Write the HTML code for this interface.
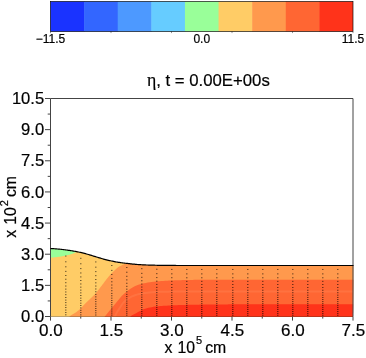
<!DOCTYPE html><html><head><meta charset="utf-8"><style>html,body{margin:0;padding:0;background:#fff;}svg{display:block;}text{filter:grayscale(1);font-family:"Liberation Sans",sans-serif;fill:#000;stroke:#000;stroke-width:0.2px;}</style></head><body>
<svg width="366" height="358" viewBox="0 0 366 358">
<rect width="366" height="358" fill="#fff"/>
<rect x="50.50" y="1.5" width="34.11" height="30.0" fill="#1A33FF"/>
<rect x="84.11" y="1.5" width="34.11" height="30.0" fill="#3366FF"/>
<rect x="117.72" y="1.5" width="34.11" height="30.0" fill="#4D99FF"/>
<rect x="151.33" y="1.5" width="34.11" height="30.0" fill="#66CCFF"/>
<rect x="184.94" y="1.5" width="34.11" height="30.0" fill="#99FF99"/>
<rect x="218.56" y="1.5" width="34.11" height="30.0" fill="#FFCC66"/>
<rect x="252.17" y="1.5" width="34.11" height="30.0" fill="#FF994D"/>
<rect x="285.78" y="1.5" width="34.11" height="30.0" fill="#FF6633"/>
<rect x="319.39" y="1.5" width="33.61" height="30.0" fill="#FF331A"/>
<rect x="50.5" y="1.5" width="302.5" height="30.0" fill="none" stroke="#000" stroke-width="0.65"/>
<path d="M50.50,31.5v1.6 M111.00,31.5v1.6 M171.50,31.5v1.6 M232.00,31.5v1.6 M292.50,31.5v1.6 M353.00,31.5v1.6" stroke="#000" stroke-width="0.6" stroke-opacity="0.7" fill="none"/>
<text x="50.5" y="42.8" font-size="12" text-anchor="middle">−11.5</text>
<text x="201.75" y="42.8" font-size="12" text-anchor="middle">0.0</text>
<text x="353.0" y="42.8" font-size="12" text-anchor="middle">11.5</text>
<clipPath id="wc"><polygon points="50.50,248.50 51.50,248.55 52.50,248.60 53.50,248.67 54.50,248.74 55.50,248.81 56.50,248.89 57.50,248.98 58.50,249.06 59.50,249.16 60.50,249.26 61.50,249.38 62.50,249.50 63.50,249.63 64.50,249.77 65.50,249.90 66.50,250.03 67.50,250.17 68.50,250.31 69.50,250.46 70.50,250.61 71.50,250.76 72.50,250.92 73.50,251.08 74.50,251.25 75.50,251.43 76.50,251.61 77.50,251.81 78.50,252.01 79.50,252.22 80.50,252.43 81.50,252.66 82.50,252.90 83.50,253.16 84.50,253.43 85.50,253.70 86.50,253.98 87.50,254.26 88.50,254.54 89.50,254.83 90.50,255.14 91.50,255.44 92.50,255.75 93.50,256.07 94.50,256.38 95.50,256.68 96.50,256.98 97.50,257.28 98.50,257.57 99.50,257.87 100.50,258.17 101.50,258.47 102.50,258.76 103.50,259.05 104.50,259.33 105.50,259.60 106.50,259.86 107.50,260.11 108.50,260.34 109.50,260.56 110.50,260.78 111.50,261.00 112.50,261.21 113.50,261.41 114.50,261.60 115.50,261.79 116.50,261.97 117.50,262.14 118.50,262.30 119.50,262.46 120.50,262.60 121.50,262.74 122.50,262.88 123.50,263.00 124.50,263.12 125.50,263.24 126.50,263.36 127.50,263.47 128.50,263.59 129.50,263.70 130.50,263.81 131.50,263.92 132.50,264.03 133.50,264.13 134.50,264.22 135.50,264.32 136.50,264.40 137.50,264.48 138.50,264.55 139.50,264.62 140.50,264.68 141.50,264.74 142.50,264.79 143.50,264.84 144.50,264.89 145.50,264.94 146.50,264.98 147.50,265.02 148.50,265.05 149.50,265.09 150.50,265.11 151.50,265.14 152.50,265.17 153.50,265.19 154.50,265.22 155.50,265.24 156.50,265.27 157.50,265.29 158.50,265.31 159.50,265.33 160.50,265.34 161.50,265.36 162.50,265.37 163.50,265.39 164.50,265.40 165.50,265.40 166.50,265.41 167.50,265.42 168.50,265.43 169.50,265.44 170.50,265.44 171.50,265.45 172.50,265.46 173.50,265.46 174.50,265.47 175.50,265.47 176.50,265.48 177.50,265.48 178.50,265.49 179.50,265.49 180.50,265.49 181.50,265.50 182.50,265.50 183.50,265.50 184.50,265.50 185.50,265.50 186.50,265.50 187.50,265.50 188.50,265.50 189.50,265.50 190.50,265.50 191.50,265.50 192.50,265.50 193.50,265.50 194.50,265.50 195.50,265.50 196.50,265.50 197.50,265.50 198.50,265.50 199.50,265.50 200.50,265.50 201.50,265.50 202.50,265.50 203.50,265.50 204.50,265.50 205.50,265.50 206.50,265.50 207.50,265.50 208.50,265.50 209.50,265.50 210.50,265.50 211.50,265.50 212.50,265.50 213.50,265.50 214.50,265.50 215.50,265.50 216.50,265.50 217.50,265.50 218.50,265.50 219.50,265.50 220.50,265.50 221.50,265.50 222.50,265.50 223.50,265.50 224.50,265.50 225.50,265.50 226.50,265.50 227.50,265.50 228.50,265.50 229.50,265.50 230.50,265.50 231.50,265.50 232.50,265.50 233.50,265.50 234.50,265.50 235.50,265.50 236.50,265.50 237.50,265.50 238.50,265.50 239.50,265.50 240.50,265.50 241.50,265.50 242.50,265.50 243.50,265.50 244.50,265.50 245.50,265.50 246.50,265.50 247.50,265.50 248.50,265.50 249.50,265.50 250.50,265.50 251.50,265.50 252.50,265.50 253.50,265.50 254.50,265.50 255.50,265.50 256.50,265.50 257.50,265.50 258.50,265.50 259.50,265.50 260.50,265.50 261.50,265.50 262.50,265.50 263.50,265.50 264.50,265.50 265.50,265.50 266.50,265.50 267.50,265.50 268.50,265.50 269.50,265.50 270.50,265.50 271.50,265.50 272.50,265.50 273.50,265.50 274.50,265.50 275.50,265.50 276.50,265.50 277.50,265.50 278.50,265.50 279.50,265.50 280.50,265.50 281.50,265.50 282.50,265.50 283.50,265.50 284.50,265.50 285.50,265.50 286.50,265.50 287.50,265.50 288.50,265.50 289.50,265.50 290.50,265.50 291.50,265.50 292.50,265.50 293.50,265.50 294.50,265.50 295.50,265.50 296.50,265.50 297.50,265.50 298.50,265.50 299.50,265.50 300.50,265.50 301.50,265.50 302.50,265.50 303.50,265.50 304.50,265.50 305.50,265.50 306.50,265.50 307.50,265.50 308.50,265.50 309.50,265.50 310.50,265.50 311.50,265.50 312.50,265.50 313.50,265.50 314.50,265.50 315.50,265.50 316.50,265.50 317.50,265.50 318.50,265.50 319.50,265.50 320.50,265.50 321.50,265.50 322.50,265.50 323.50,265.50 324.50,265.50 325.50,265.50 326.50,265.50 327.50,265.50 328.50,265.50 329.50,265.50 330.50,265.50 331.50,265.50 332.50,265.50 333.50,265.50 334.50,265.50 335.50,265.50 336.50,265.50 337.50,265.50 338.50,265.50 339.50,265.50 340.50,265.50 341.50,265.50 342.50,265.50 343.50,265.50 344.50,265.50 345.50,265.50 346.50,265.50 347.50,265.50 348.50,265.50 349.50,265.50 350.50,265.50 351.50,265.50 352.50,265.50 353.50,265.50 353.0,316.7 50.5,316.7"/></clipPath>
<g clip-path="url(#wc)">
<rect x="50.5" y="240" width="302.5" height="80" fill="#FFCC66"/>
<polygon points="49.00,240.00 49.00,257.80 49.55,257.77 50.09,257.73 50.64,257.69 51.18,257.64 51.73,257.60 52.27,257.55 52.82,257.50 53.36,257.44 53.91,257.39 54.45,257.33 55.00,257.27 55.54,257.21 56.08,257.14 56.63,257.07 57.17,257.01 57.71,256.94 58.25,256.87 58.80,256.79 59.34,256.72 59.88,256.63 60.42,256.55 60.96,256.47 61.50,256.38 62.05,256.28 62.59,256.19 63.12,256.09 63.66,255.99 64.20,255.89 64.74,255.78 65.27,255.67 65.80,255.56 66.34,255.44 66.87,255.32 67.40,255.19 67.94,255.06 68.47,254.92 69.00,254.78 69.53,254.64 70.06,254.48 70.59,254.33 71.11,254.17 71.63,254.00 72.15,253.83 72.66,253.65 73.18,253.47 73.68,253.28 74.19,253.07 74.69,252.84 75.19,252.61 75.68,252.37 76.17,252.12 76.66,251.87 77.15,251.62 77.63,251.37 78.11,251.11 78.59,250.84 79.06,250.57 79.53,250.29 80.00,250.00 80.00,240.00" fill="#99FF99"/>
<polygon points="68.50,318.00 69.35,316.80 70.34,315.81 71.50,314.99 72.76,314.25 74.05,313.54 75.30,312.78 76.47,311.94 77.61,311.05 78.74,310.13 79.83,309.19 80.89,308.21 81.90,307.19 82.88,306.12 83.84,305.04 84.80,303.95 85.79,302.91 86.83,301.90 87.88,300.91 88.95,299.93 90.01,298.95 91.06,297.95 92.10,296.95 93.14,295.95 94.17,294.93 95.17,293.89 96.13,292.82 97.05,291.71 97.94,290.57 98.82,289.42 99.69,288.26 100.57,287.12 101.45,285.97 102.32,284.81 103.19,283.66 104.06,282.51 104.94,281.36 105.80,280.20 106.67,279.04 107.57,277.91 108.50,276.81 109.44,275.71 110.40,274.62 111.38,273.55 112.38,272.51 113.40,271.50 114.45,270.49 115.51,269.49 116.60,268.52 117.73,267.61 118.90,266.79 120.12,266.07 121.40,265.42 122.73,264.83 124.09,264.27 125.44,263.75 126.80,263.27 128.18,262.85 129.58,262.50 131.00,262.20 131.00,240.00 360.00,240.00 360.00,320.00 68.50,320.00" fill="#FF994D"/>
<polygon points="103.50,318.00 104.78,316.53 106.03,315.04 107.25,313.52 108.47,312.00 109.70,310.49 110.94,308.99 112.18,307.48 113.42,305.98 114.66,304.48 115.90,302.98 117.15,301.48 118.39,299.98 119.61,298.45 120.86,296.95 122.17,295.53 123.57,294.18 125.04,292.89 126.55,291.65 128.09,290.46 129.67,289.29 131.29,288.22 132.97,287.26 134.71,286.37 136.50,285.55 138.31,284.86 140.16,284.28 142.04,283.77 143.95,283.31 145.86,282.92 147.77,282.58 149.70,282.27 151.63,282.00 153.57,281.76 155.50,281.55 157.44,281.36 159.38,281.19 161.32,281.04 163.27,280.90 165.21,280.79 167.16,280.69 169.10,280.59 171.05,280.51 173.00,280.43 174.94,280.36 176.89,280.29 178.84,280.23 180.78,280.18 182.73,280.12 184.68,280.07 186.63,280.02 188.57,279.97 190.52,279.92 192.47,279.88 194.42,279.85 196.37,279.82 198.31,279.81 200.26,279.80 202.21,279.80 204.16,279.79 206.10,279.79 208.05,279.79 210.00,279.78 211.95,279.78 213.90,279.78 215.84,279.78 217.79,279.77 219.74,279.77 221.69,279.77 223.63,279.77 225.58,279.76 227.53,279.76 229.48,279.76 231.43,279.76 233.37,279.76 235.32,279.75 237.27,279.75 239.22,279.75 241.17,279.75 243.11,279.75 245.06,279.74 247.01,279.74 248.96,279.74 250.91,279.74 252.85,279.74 254.80,279.73 256.75,279.73 258.70,279.73 260.64,279.73 262.59,279.73 264.54,279.73 266.49,279.73 268.44,279.72 270.38,279.72 272.33,279.72 274.28,279.72 276.23,279.72 278.18,279.72 280.12,279.72 282.07,279.72 284.02,279.72 285.97,279.71 287.92,279.71 289.86,279.71 291.81,279.71 293.76,279.71 295.71,279.71 297.66,279.71 299.60,279.71 301.55,279.71 303.50,279.71 305.45,279.71 307.40,279.71 309.35,279.71 311.29,279.71 313.24,279.71 315.19,279.70 317.14,279.70 319.09,279.70 321.03,279.70 322.98,279.70 324.93,279.70 326.88,279.70 328.83,279.70 330.78,279.70 332.72,279.70 334.67,279.70 336.62,279.70 338.57,279.70 340.52,279.70 342.46,279.70 344.41,279.70 346.36,279.70 348.31,279.70 350.26,279.70 352.21,279.70 354.15,279.70 356.10,279.70 358.05,279.70 360.00,279.70 360.00,320.00 103.50,320.00" fill="#FF6633"/>
<polygon points="129.50,318.00 130.47,316.57 131.63,315.46 133.05,314.63 134.61,313.90 136.17,313.17 137.64,312.35 139.09,311.48 140.55,310.63 142.05,309.89 143.60,309.29 145.19,308.76 146.82,308.29 148.45,307.87 150.09,307.51 151.74,307.17 153.39,306.87 155.06,306.62 156.72,306.42 158.39,306.24 160.07,306.09 161.74,305.95 163.42,305.84 165.10,305.73 166.77,305.64 168.45,305.54 170.13,305.46 171.81,305.37 173.49,305.29 175.17,305.22 176.85,305.15 178.53,305.09 180.20,305.03 181.88,304.98 183.56,304.93 185.24,304.89 186.92,304.86 188.60,304.82 190.28,304.79 191.96,304.75 193.64,304.72 195.32,304.69 197.00,304.66 198.68,304.63 200.36,304.60 202.04,304.57 203.72,304.55 205.40,304.52 207.09,304.50 208.77,304.48 210.45,304.46 212.13,304.45 213.81,304.43 215.49,304.42 217.17,304.41 218.85,304.40 220.53,304.40 222.21,304.39 223.89,304.39 225.57,304.38 227.25,304.38 228.93,304.37 230.61,304.37 232.29,304.36 233.97,304.36 235.65,304.35 237.33,304.35 239.01,304.35 240.69,304.34 242.37,304.34 244.05,304.33 245.73,304.33 247.41,304.32 249.09,304.32 250.77,304.32 252.45,304.31 254.13,304.31 255.81,304.31 257.50,304.30 259.18,304.30 260.86,304.30 262.54,304.29 264.22,304.29 265.90,304.29 267.58,304.28 269.26,304.28 270.94,304.28 272.62,304.27 274.30,304.27 275.98,304.27 277.66,304.26 279.34,304.26 281.02,304.26 282.70,304.26 284.38,304.25 286.06,304.25 287.74,304.25 289.42,304.25 291.10,304.24 292.78,304.24 294.46,304.24 296.14,304.24 297.82,304.24 299.50,304.23 301.18,304.23 302.86,304.23 304.55,304.23 306.23,304.23 307.91,304.22 309.59,304.22 311.27,304.22 312.95,304.22 314.63,304.22 316.31,304.22 317.99,304.22 319.67,304.21 321.35,304.21 323.03,304.21 324.71,304.21 326.39,304.21 328.07,304.21 329.75,304.21 331.43,304.21 333.11,304.21 334.79,304.21 336.47,304.20 338.15,304.20 339.83,304.20 341.51,304.20 343.20,304.20 344.88,304.20 346.56,304.20 348.24,304.20 349.92,304.20 351.60,304.20 353.28,304.20 354.96,304.20 356.64,304.20 358.32,304.20 360.00,304.20 360.00,320.00 129.50,320.00" fill="#FF331A"/>
<polyline points="114.00,318.00 115.16,315.66 116.39,313.37 117.69,311.12 119.05,308.92 120.46,306.70 121.94,304.50 123.55,302.48 125.35,300.74 127.41,299.13 129.64,297.68 131.97,296.45 134.32,295.48 136.79,294.64 139.33,293.94 141.88,293.42 144.43,293.04 147.01,292.71 149.61,292.45 152.20,292.25 154.79,292.10 157.39,291.98 159.98,291.87 162.58,291.78 165.18,291.70 167.78,291.64 170.37,291.59 172.97,291.55 175.57,291.52 178.17,291.48 180.76,291.45 183.36,291.43 185.96,291.41 188.56,291.40 191.15,291.40 193.75,291.40 196.35,291.40 198.95,291.40 201.54,291.40 204.14,291.40 206.74,291.40 209.34,291.40 211.93,291.40 214.53,291.40 217.13,291.40 219.73,291.40 222.32,291.40 224.92,291.40 227.52,291.40 230.12,291.40 232.72,291.40 235.31,291.40 237.91,291.40 240.51,291.40 243.11,291.40 245.70,291.40 248.30,291.40 250.90,291.40 253.50,291.40 256.09,291.40 258.69,291.40 261.29,291.40 263.89,291.40 266.48,291.40 269.08,291.40 271.68,291.40 274.28,291.40 276.87,291.40 279.47,291.40 282.07,291.40 284.67,291.40 287.26,291.40 289.86,291.40 292.46,291.40 295.06,291.40 297.66,291.40 300.25,291.40 302.85,291.40 305.45,291.40 308.05,291.40 310.64,291.40 313.24,291.40 315.84,291.40 318.44,291.40 321.03,291.40 323.63,291.40 326.23,291.40 328.83,291.40 331.43,291.40 334.02,291.40 336.62,291.40 339.22,291.40 341.82,291.40 344.41,291.40 347.01,291.40 349.61,291.40 352.21,291.40 354.80,291.40 357.40,291.40 360.00,291.40" fill="none" stroke="#FFB080" stroke-opacity="0.17" stroke-width="2"/>
</g>
<g fill="#000" fill-opacity="0.64"><rect x="65" y="255.61" width="1.5" height="0.86"/><rect x="65" y="261.39" width="1.5" height="0.86"/><rect x="65" y="266.40" width="1.5" height="0.86"/><rect x="65" y="270.89" width="1.5" height="0.86"/><rect x="65" y="275.00" width="1.5" height="0.86"/><rect x="65" y="278.78" width="1.5" height="0.86"/><rect x="65" y="282.31" width="1.5" height="0.86"/><rect x="65" y="285.59" width="1.5" height="0.86"/><rect x="65" y="288.67" width="1.5" height="0.86"/><rect x="65" y="291.55" width="1.5" height="0.86"/><rect x="65" y="294.31" width="1.5" height="0.86"/><rect x="65" y="297.01" width="1.5" height="0.86"/><rect x="65" y="299.64" width="1.5" height="0.86"/><rect x="65" y="302.21" width="1.5" height="0.86"/><rect x="65" y="304.71" width="1.5" height="0.86"/><rect x="65" y="307.17" width="1.5" height="0.86"/><rect x="65" y="309.61" width="1.5" height="0.86"/><rect x="65" y="312.03" width="1.5" height="0.86"/><rect x="65" y="314.41" width="1.5" height="0.86"/><rect x="80" y="257.82" width="1.5" height="0.86"/><rect x="80" y="263.38" width="1.5" height="0.86"/><rect x="80" y="268.21" width="1.5" height="0.86"/><rect x="80" y="272.54" width="1.5" height="0.86"/><rect x="80" y="276.49" width="1.5" height="0.86"/><rect x="80" y="280.14" width="1.5" height="0.86"/><rect x="80" y="283.54" width="1.5" height="0.86"/><rect x="80" y="286.70" width="1.5" height="0.86"/><rect x="80" y="289.67" width="1.5" height="0.86"/><rect x="80" y="292.45" width="1.5" height="0.86"/><rect x="80" y="295.11" width="1.5" height="0.86"/><rect x="80" y="297.70" width="1.5" height="0.86"/><rect x="80" y="300.24" width="1.5" height="0.86"/><rect x="80" y="302.71" width="1.5" height="0.86"/><rect x="80" y="305.12" width="1.5" height="0.86"/><rect x="80" y="307.50" width="1.5" height="0.86"/><rect x="80" y="309.85" width="1.5" height="0.86"/><rect x="80" y="312.17" width="1.5" height="0.86"/><rect x="80" y="314.47" width="1.5" height="0.86"/><rect x="95" y="261.51" width="1.5" height="0.86"/><rect x="95" y="266.72" width="1.5" height="0.86"/><rect x="95" y="271.24" width="1.5" height="0.86"/><rect x="95" y="275.29" width="1.5" height="0.86"/><rect x="95" y="279.00" width="1.5" height="0.86"/><rect x="95" y="282.42" width="1.5" height="0.86"/><rect x="95" y="285.60" width="1.5" height="0.86"/><rect x="95" y="288.56" width="1.5" height="0.86"/><rect x="95" y="291.34" width="1.5" height="0.86"/><rect x="95" y="293.94" width="1.5" height="0.86"/><rect x="95" y="296.44" width="1.5" height="0.86"/><rect x="95" y="298.87" width="1.5" height="0.86"/><rect x="95" y="301.24" width="1.5" height="0.86"/><rect x="95" y="303.56" width="1.5" height="0.86"/><rect x="95" y="305.82" width="1.5" height="0.86"/><rect x="95" y="308.04" width="1.5" height="0.86"/><rect x="95" y="310.24" width="1.5" height="0.86"/><rect x="95" y="312.42" width="1.5" height="0.86"/><rect x="95" y="314.58" width="1.5" height="0.86"/><rect x="111" y="265.02" width="1.5" height="0.86"/><rect x="111" y="269.90" width="1.5" height="0.86"/><rect x="111" y="274.13" width="1.5" height="0.86"/><rect x="111" y="277.92" width="1.5" height="0.86"/><rect x="111" y="281.39" width="1.5" height="0.86"/><rect x="111" y="284.58" width="1.5" height="0.86"/><rect x="111" y="287.57" width="1.5" height="0.86"/><rect x="111" y="290.33" width="1.5" height="0.86"/><rect x="111" y="292.93" width="1.5" height="0.86"/><rect x="111" y="295.37" width="1.5" height="0.86"/><rect x="111" y="297.70" width="1.5" height="0.86"/><rect x="111" y="299.98" width="1.5" height="0.86"/><rect x="111" y="302.20" width="1.5" height="0.86"/><rect x="111" y="304.36" width="1.5" height="0.86"/><rect x="111" y="306.48" width="1.5" height="0.86"/><rect x="111" y="308.56" width="1.5" height="0.86"/><rect x="111" y="310.62" width="1.5" height="0.86"/><rect x="111" y="312.66" width="1.5" height="0.86"/><rect x="111" y="314.67" width="1.5" height="0.86"/><rect x="126" y="267.10" width="1.5" height="0.86"/><rect x="126" y="271.78" width="1.5" height="0.86"/><rect x="126" y="275.83" width="1.5" height="0.86"/><rect x="126" y="279.47" width="1.5" height="0.86"/><rect x="126" y="282.80" width="1.5" height="0.86"/><rect x="126" y="285.86" width="1.5" height="0.86"/><rect x="126" y="288.72" width="1.5" height="0.86"/><rect x="126" y="291.38" width="1.5" height="0.86"/><rect x="126" y="293.87" width="1.5" height="0.86"/><rect x="126" y="296.21" width="1.5" height="0.86"/><rect x="126" y="298.45" width="1.5" height="0.86"/><rect x="126" y="300.63" width="1.5" height="0.86"/><rect x="126" y="302.76" width="1.5" height="0.86"/><rect x="126" y="304.84" width="1.5" height="0.86"/><rect x="126" y="306.87" width="1.5" height="0.86"/><rect x="126" y="308.86" width="1.5" height="0.86"/><rect x="126" y="310.84" width="1.5" height="0.86"/><rect x="126" y="312.79" width="1.5" height="0.86"/><rect x="126" y="314.73" width="1.5" height="0.86"/><rect x="141" y="268.30" width="1.5" height="0.86"/><rect x="141" y="272.87" width="1.5" height="0.86"/><rect x="141" y="276.82" width="1.5" height="0.86"/><rect x="141" y="280.37" width="1.5" height="0.86"/><rect x="141" y="283.62" width="1.5" height="0.86"/><rect x="141" y="286.61" width="1.5" height="0.86"/><rect x="141" y="289.40" width="1.5" height="0.86"/><rect x="141" y="291.98" width="1.5" height="0.86"/><rect x="141" y="294.42" width="1.5" height="0.86"/><rect x="141" y="296.70" width="1.5" height="0.86"/><rect x="141" y="298.88" width="1.5" height="0.86"/><rect x="141" y="301.01" width="1.5" height="0.86"/><rect x="141" y="303.09" width="1.5" height="0.86"/><rect x="141" y="305.12" width="1.5" height="0.86"/><rect x="141" y="307.09" width="1.5" height="0.86"/><rect x="141" y="309.04" width="1.5" height="0.86"/><rect x="141" y="310.97" width="1.5" height="0.86"/><rect x="141" y="312.88" width="1.5" height="0.86"/><rect x="141" y="314.76" width="1.5" height="0.86"/><rect x="156" y="268.77" width="1.5" height="0.86"/><rect x="156" y="273.29" width="1.5" height="0.86"/><rect x="156" y="277.20" width="1.5" height="0.86"/><rect x="156" y="280.72" width="1.5" height="0.86"/><rect x="156" y="283.93" width="1.5" height="0.86"/><rect x="156" y="286.90" width="1.5" height="0.86"/><rect x="156" y="289.66" width="1.5" height="0.86"/><rect x="156" y="292.22" width="1.5" height="0.86"/><rect x="156" y="294.63" width="1.5" height="0.86"/><rect x="156" y="296.89" width="1.5" height="0.86"/><rect x="156" y="299.05" width="1.5" height="0.86"/><rect x="156" y="301.16" width="1.5" height="0.86"/><rect x="156" y="303.21" width="1.5" height="0.86"/><rect x="156" y="305.22" width="1.5" height="0.86"/><rect x="156" y="307.18" width="1.5" height="0.86"/><rect x="156" y="309.11" width="1.5" height="0.86"/><rect x="156" y="311.02" width="1.5" height="0.86"/><rect x="156" y="312.91" width="1.5" height="0.86"/><rect x="156" y="314.77" width="1.5" height="0.86"/><rect x="171" y="268.93" width="1.5" height="0.86"/><rect x="171" y="273.43" width="1.5" height="0.86"/><rect x="171" y="277.33" width="1.5" height="0.86"/><rect x="171" y="280.84" width="1.5" height="0.86"/><rect x="171" y="284.04" width="1.5" height="0.86"/><rect x="171" y="286.99" width="1.5" height="0.86"/><rect x="171" y="289.75" width="1.5" height="0.86"/><rect x="171" y="292.30" width="1.5" height="0.86"/><rect x="171" y="294.70" width="1.5" height="0.86"/><rect x="171" y="296.95" width="1.5" height="0.86"/><rect x="171" y="299.10" width="1.5" height="0.86"/><rect x="171" y="301.21" width="1.5" height="0.86"/><rect x="171" y="303.26" width="1.5" height="0.86"/><rect x="171" y="305.26" width="1.5" height="0.86"/><rect x="171" y="307.21" width="1.5" height="0.86"/><rect x="171" y="309.13" width="1.5" height="0.86"/><rect x="171" y="311.04" width="1.5" height="0.86"/><rect x="171" y="312.92" width="1.5" height="0.86"/><rect x="171" y="314.78" width="1.5" height="0.86"/><rect x="186" y="268.97" width="1.5" height="0.86"/><rect x="186" y="273.47" width="1.5" height="0.86"/><rect x="186" y="277.37" width="1.5" height="0.86"/><rect x="186" y="280.87" width="1.5" height="0.86"/><rect x="186" y="284.07" width="1.5" height="0.86"/><rect x="186" y="287.02" width="1.5" height="0.86"/><rect x="186" y="289.77" width="1.5" height="0.86"/><rect x="186" y="292.32" width="1.5" height="0.86"/><rect x="186" y="294.72" width="1.5" height="0.86"/><rect x="186" y="296.97" width="1.5" height="0.86"/><rect x="186" y="299.12" width="1.5" height="0.86"/><rect x="186" y="301.22" width="1.5" height="0.86"/><rect x="186" y="303.27" width="1.5" height="0.86"/><rect x="186" y="305.27" width="1.5" height="0.86"/><rect x="186" y="307.22" width="1.5" height="0.86"/><rect x="186" y="309.14" width="1.5" height="0.86"/><rect x="186" y="311.04" width="1.5" height="0.86"/><rect x="186" y="312.92" width="1.5" height="0.86"/><rect x="186" y="314.78" width="1.5" height="0.86"/><rect x="201" y="268.97" width="1.5" height="0.86"/><rect x="201" y="273.47" width="1.5" height="0.86"/><rect x="201" y="277.37" width="1.5" height="0.86"/><rect x="201" y="280.87" width="1.5" height="0.86"/><rect x="201" y="284.07" width="1.5" height="0.86"/><rect x="201" y="287.02" width="1.5" height="0.86"/><rect x="201" y="289.77" width="1.5" height="0.86"/><rect x="201" y="292.32" width="1.5" height="0.86"/><rect x="201" y="294.72" width="1.5" height="0.86"/><rect x="201" y="296.97" width="1.5" height="0.86"/><rect x="201" y="299.12" width="1.5" height="0.86"/><rect x="201" y="301.22" width="1.5" height="0.86"/><rect x="201" y="303.27" width="1.5" height="0.86"/><rect x="201" y="305.27" width="1.5" height="0.86"/><rect x="201" y="307.22" width="1.5" height="0.86"/><rect x="201" y="309.14" width="1.5" height="0.86"/><rect x="201" y="311.04" width="1.5" height="0.86"/><rect x="201" y="312.92" width="1.5" height="0.86"/><rect x="201" y="314.78" width="1.5" height="0.86"/><rect x="216" y="268.97" width="1.5" height="0.86"/><rect x="216" y="273.47" width="1.5" height="0.86"/><rect x="216" y="277.37" width="1.5" height="0.86"/><rect x="216" y="280.87" width="1.5" height="0.86"/><rect x="216" y="284.07" width="1.5" height="0.86"/><rect x="216" y="287.02" width="1.5" height="0.86"/><rect x="216" y="289.77" width="1.5" height="0.86"/><rect x="216" y="292.32" width="1.5" height="0.86"/><rect x="216" y="294.72" width="1.5" height="0.86"/><rect x="216" y="296.97" width="1.5" height="0.86"/><rect x="216" y="299.12" width="1.5" height="0.86"/><rect x="216" y="301.22" width="1.5" height="0.86"/><rect x="216" y="303.27" width="1.5" height="0.86"/><rect x="216" y="305.27" width="1.5" height="0.86"/><rect x="216" y="307.22" width="1.5" height="0.86"/><rect x="216" y="309.14" width="1.5" height="0.86"/><rect x="216" y="311.04" width="1.5" height="0.86"/><rect x="216" y="312.92" width="1.5" height="0.86"/><rect x="216" y="314.78" width="1.5" height="0.86"/><rect x="232" y="268.97" width="1.5" height="0.86"/><rect x="232" y="273.47" width="1.5" height="0.86"/><rect x="232" y="277.37" width="1.5" height="0.86"/><rect x="232" y="280.87" width="1.5" height="0.86"/><rect x="232" y="284.07" width="1.5" height="0.86"/><rect x="232" y="287.02" width="1.5" height="0.86"/><rect x="232" y="289.77" width="1.5" height="0.86"/><rect x="232" y="292.32" width="1.5" height="0.86"/><rect x="232" y="294.72" width="1.5" height="0.86"/><rect x="232" y="296.97" width="1.5" height="0.86"/><rect x="232" y="299.12" width="1.5" height="0.86"/><rect x="232" y="301.22" width="1.5" height="0.86"/><rect x="232" y="303.27" width="1.5" height="0.86"/><rect x="232" y="305.27" width="1.5" height="0.86"/><rect x="232" y="307.22" width="1.5" height="0.86"/><rect x="232" y="309.14" width="1.5" height="0.86"/><rect x="232" y="311.04" width="1.5" height="0.86"/><rect x="232" y="312.92" width="1.5" height="0.86"/><rect x="232" y="314.78" width="1.5" height="0.86"/><rect x="247" y="268.97" width="1.5" height="0.86"/><rect x="247" y="273.47" width="1.5" height="0.86"/><rect x="247" y="277.37" width="1.5" height="0.86"/><rect x="247" y="280.87" width="1.5" height="0.86"/><rect x="247" y="284.07" width="1.5" height="0.86"/><rect x="247" y="287.02" width="1.5" height="0.86"/><rect x="247" y="289.77" width="1.5" height="0.86"/><rect x="247" y="292.32" width="1.5" height="0.86"/><rect x="247" y="294.72" width="1.5" height="0.86"/><rect x="247" y="296.97" width="1.5" height="0.86"/><rect x="247" y="299.12" width="1.5" height="0.86"/><rect x="247" y="301.22" width="1.5" height="0.86"/><rect x="247" y="303.27" width="1.5" height="0.86"/><rect x="247" y="305.27" width="1.5" height="0.86"/><rect x="247" y="307.22" width="1.5" height="0.86"/><rect x="247" y="309.14" width="1.5" height="0.86"/><rect x="247" y="311.04" width="1.5" height="0.86"/><rect x="247" y="312.92" width="1.5" height="0.86"/><rect x="247" y="314.78" width="1.5" height="0.86"/><rect x="262" y="268.97" width="1.5" height="0.86"/><rect x="262" y="273.47" width="1.5" height="0.86"/><rect x="262" y="277.37" width="1.5" height="0.86"/><rect x="262" y="280.87" width="1.5" height="0.86"/><rect x="262" y="284.07" width="1.5" height="0.86"/><rect x="262" y="287.02" width="1.5" height="0.86"/><rect x="262" y="289.77" width="1.5" height="0.86"/><rect x="262" y="292.32" width="1.5" height="0.86"/><rect x="262" y="294.72" width="1.5" height="0.86"/><rect x="262" y="296.97" width="1.5" height="0.86"/><rect x="262" y="299.12" width="1.5" height="0.86"/><rect x="262" y="301.22" width="1.5" height="0.86"/><rect x="262" y="303.27" width="1.5" height="0.86"/><rect x="262" y="305.27" width="1.5" height="0.86"/><rect x="262" y="307.22" width="1.5" height="0.86"/><rect x="262" y="309.14" width="1.5" height="0.86"/><rect x="262" y="311.04" width="1.5" height="0.86"/><rect x="262" y="312.92" width="1.5" height="0.86"/><rect x="262" y="314.78" width="1.5" height="0.86"/><rect x="277" y="268.97" width="1.5" height="0.86"/><rect x="277" y="273.47" width="1.5" height="0.86"/><rect x="277" y="277.37" width="1.5" height="0.86"/><rect x="277" y="280.87" width="1.5" height="0.86"/><rect x="277" y="284.07" width="1.5" height="0.86"/><rect x="277" y="287.02" width="1.5" height="0.86"/><rect x="277" y="289.77" width="1.5" height="0.86"/><rect x="277" y="292.32" width="1.5" height="0.86"/><rect x="277" y="294.72" width="1.5" height="0.86"/><rect x="277" y="296.97" width="1.5" height="0.86"/><rect x="277" y="299.12" width="1.5" height="0.86"/><rect x="277" y="301.22" width="1.5" height="0.86"/><rect x="277" y="303.27" width="1.5" height="0.86"/><rect x="277" y="305.27" width="1.5" height="0.86"/><rect x="277" y="307.22" width="1.5" height="0.86"/><rect x="277" y="309.14" width="1.5" height="0.86"/><rect x="277" y="311.04" width="1.5" height="0.86"/><rect x="277" y="312.92" width="1.5" height="0.86"/><rect x="277" y="314.78" width="1.5" height="0.86"/><rect x="292" y="268.97" width="1.5" height="0.86"/><rect x="292" y="273.47" width="1.5" height="0.86"/><rect x="292" y="277.37" width="1.5" height="0.86"/><rect x="292" y="280.87" width="1.5" height="0.86"/><rect x="292" y="284.07" width="1.5" height="0.86"/><rect x="292" y="287.02" width="1.5" height="0.86"/><rect x="292" y="289.77" width="1.5" height="0.86"/><rect x="292" y="292.32" width="1.5" height="0.86"/><rect x="292" y="294.72" width="1.5" height="0.86"/><rect x="292" y="296.97" width="1.5" height="0.86"/><rect x="292" y="299.12" width="1.5" height="0.86"/><rect x="292" y="301.22" width="1.5" height="0.86"/><rect x="292" y="303.27" width="1.5" height="0.86"/><rect x="292" y="305.27" width="1.5" height="0.86"/><rect x="292" y="307.22" width="1.5" height="0.86"/><rect x="292" y="309.14" width="1.5" height="0.86"/><rect x="292" y="311.04" width="1.5" height="0.86"/><rect x="292" y="312.92" width="1.5" height="0.86"/><rect x="292" y="314.78" width="1.5" height="0.86"/><rect x="307" y="268.97" width="1.5" height="0.86"/><rect x="307" y="273.47" width="1.5" height="0.86"/><rect x="307" y="277.37" width="1.5" height="0.86"/><rect x="307" y="280.87" width="1.5" height="0.86"/><rect x="307" y="284.07" width="1.5" height="0.86"/><rect x="307" y="287.02" width="1.5" height="0.86"/><rect x="307" y="289.77" width="1.5" height="0.86"/><rect x="307" y="292.32" width="1.5" height="0.86"/><rect x="307" y="294.72" width="1.5" height="0.86"/><rect x="307" y="296.97" width="1.5" height="0.86"/><rect x="307" y="299.12" width="1.5" height="0.86"/><rect x="307" y="301.22" width="1.5" height="0.86"/><rect x="307" y="303.27" width="1.5" height="0.86"/><rect x="307" y="305.27" width="1.5" height="0.86"/><rect x="307" y="307.22" width="1.5" height="0.86"/><rect x="307" y="309.14" width="1.5" height="0.86"/><rect x="307" y="311.04" width="1.5" height="0.86"/><rect x="307" y="312.92" width="1.5" height="0.86"/><rect x="307" y="314.78" width="1.5" height="0.86"/><rect x="322" y="268.97" width="1.5" height="0.86"/><rect x="322" y="273.47" width="1.5" height="0.86"/><rect x="322" y="277.37" width="1.5" height="0.86"/><rect x="322" y="280.87" width="1.5" height="0.86"/><rect x="322" y="284.07" width="1.5" height="0.86"/><rect x="322" y="287.02" width="1.5" height="0.86"/><rect x="322" y="289.77" width="1.5" height="0.86"/><rect x="322" y="292.32" width="1.5" height="0.86"/><rect x="322" y="294.72" width="1.5" height="0.86"/><rect x="322" y="296.97" width="1.5" height="0.86"/><rect x="322" y="299.12" width="1.5" height="0.86"/><rect x="322" y="301.22" width="1.5" height="0.86"/><rect x="322" y="303.27" width="1.5" height="0.86"/><rect x="322" y="305.27" width="1.5" height="0.86"/><rect x="322" y="307.22" width="1.5" height="0.86"/><rect x="322" y="309.14" width="1.5" height="0.86"/><rect x="322" y="311.04" width="1.5" height="0.86"/><rect x="322" y="312.92" width="1.5" height="0.86"/><rect x="322" y="314.78" width="1.5" height="0.86"/><rect x="337" y="268.97" width="1.5" height="0.86"/><rect x="337" y="273.47" width="1.5" height="0.86"/><rect x="337" y="277.37" width="1.5" height="0.86"/><rect x="337" y="280.87" width="1.5" height="0.86"/><rect x="337" y="284.07" width="1.5" height="0.86"/><rect x="337" y="287.02" width="1.5" height="0.86"/><rect x="337" y="289.77" width="1.5" height="0.86"/><rect x="337" y="292.32" width="1.5" height="0.86"/><rect x="337" y="294.72" width="1.5" height="0.86"/><rect x="337" y="296.97" width="1.5" height="0.86"/><rect x="337" y="299.12" width="1.5" height="0.86"/><rect x="337" y="301.22" width="1.5" height="0.86"/><rect x="337" y="303.27" width="1.5" height="0.86"/><rect x="337" y="305.27" width="1.5" height="0.86"/><rect x="337" y="307.22" width="1.5" height="0.86"/><rect x="337" y="309.14" width="1.5" height="0.86"/><rect x="337" y="311.04" width="1.5" height="0.86"/><rect x="337" y="312.92" width="1.5" height="0.86"/><rect x="337" y="314.78" width="1.5" height="0.86"/></g>
<path d="M50.5,316.5V98.5H353.0V316.5" fill="none" stroke="#444" stroke-width="1"/>
<path d="M50.5,316.5H353.0" fill="none" stroke="#000" stroke-opacity="0.25" stroke-width="1"/>
<polyline points="50.50,248.50 51.50,248.55 52.50,248.60 53.50,248.67 54.50,248.74 55.50,248.81 56.50,248.89 57.50,248.98 58.50,249.06 59.50,249.16 60.50,249.26 61.50,249.38 62.50,249.50 63.50,249.63 64.50,249.77 65.50,249.90 66.50,250.03 67.50,250.17 68.50,250.31 69.50,250.46 70.50,250.61 71.50,250.76 72.50,250.92 73.50,251.08 74.50,251.25 75.50,251.43 76.50,251.61 77.50,251.81 78.50,252.01 79.50,252.22 80.50,252.43 81.50,252.66 82.50,252.90 83.50,253.16 84.50,253.43 85.50,253.70 86.50,253.98 87.50,254.26 88.50,254.54 89.50,254.83 90.50,255.14 91.50,255.44 92.50,255.75 93.50,256.07 94.50,256.38 95.50,256.68 96.50,256.98 97.50,257.28 98.50,257.57 99.50,257.87 100.50,258.17 101.50,258.47 102.50,258.76 103.50,259.05 104.50,259.33 105.50,259.60 106.50,259.86 107.50,260.11 108.50,260.34 109.50,260.56 110.50,260.78 111.50,261.00 112.50,261.21 113.50,261.41 114.50,261.60 115.50,261.79 116.50,261.97 117.50,262.14 118.50,262.30 119.50,262.46 120.50,262.60 121.50,262.74 122.50,262.88 123.50,263.00 124.50,263.12 125.50,263.24 126.50,263.36 127.50,263.47 128.50,263.59 129.50,263.70 130.50,263.81 131.50,263.92 132.50,264.03 133.50,264.13 134.50,264.22 135.50,264.32 136.50,264.40 137.50,264.48 138.50,264.55 139.50,264.62 140.50,264.68 141.50,264.74 142.50,264.79 143.50,264.84 144.50,264.89 145.50,264.94 146.50,264.98 147.50,265.02 148.50,265.05 149.50,265.09 150.50,265.11 151.50,265.14 152.50,265.17 153.50,265.19 154.50,265.22 155.50,265.24 156.50,265.27 157.50,265.29 158.50,265.31 159.50,265.33 160.50,265.34 161.50,265.36 162.50,265.37 163.50,265.39 164.50,265.40 165.50,265.40 166.50,265.41 167.50,265.42 168.50,265.43 169.50,265.44 170.50,265.44 171.50,265.45 172.50,265.46 173.50,265.46 174.50,265.47 175.50,265.47 176.50,265.48 177.50,265.48 178.50,265.49 179.50,265.49 180.50,265.49 181.50,265.50 182.50,265.50 183.50,265.50 184.50,265.50 185.50,265.50 186.50,265.50 187.50,265.50 188.50,265.50 189.50,265.50 190.50,265.50 191.50,265.50 192.50,265.50 193.50,265.50 194.50,265.50 195.50,265.50 196.50,265.50 197.50,265.50 198.50,265.50 199.50,265.50 200.50,265.50 201.50,265.50 202.50,265.50 203.50,265.50 204.50,265.50 205.50,265.50 206.50,265.50 207.50,265.50 208.50,265.50 209.50,265.50 210.50,265.50 211.50,265.50 212.50,265.50 213.50,265.50 214.50,265.50 215.50,265.50 216.50,265.50 217.50,265.50 218.50,265.50 219.50,265.50 220.50,265.50 221.50,265.50 222.50,265.50 223.50,265.50 224.50,265.50 225.50,265.50 226.50,265.50 227.50,265.50 228.50,265.50 229.50,265.50 230.50,265.50 231.50,265.50 232.50,265.50 233.50,265.50 234.50,265.50 235.50,265.50 236.50,265.50 237.50,265.50 238.50,265.50 239.50,265.50 240.50,265.50 241.50,265.50 242.50,265.50 243.50,265.50 244.50,265.50 245.50,265.50 246.50,265.50 247.50,265.50 248.50,265.50 249.50,265.50 250.50,265.50 251.50,265.50 252.50,265.50 253.50,265.50 254.50,265.50 255.50,265.50 256.50,265.50 257.50,265.50 258.50,265.50 259.50,265.50 260.50,265.50 261.50,265.50 262.50,265.50 263.50,265.50 264.50,265.50 265.50,265.50 266.50,265.50 267.50,265.50 268.50,265.50 269.50,265.50 270.50,265.50 271.50,265.50 272.50,265.50 273.50,265.50 274.50,265.50 275.50,265.50 276.50,265.50 277.50,265.50 278.50,265.50 279.50,265.50 280.50,265.50 281.50,265.50 282.50,265.50 283.50,265.50 284.50,265.50 285.50,265.50 286.50,265.50 287.50,265.50 288.50,265.50 289.50,265.50 290.50,265.50 291.50,265.50 292.50,265.50 293.50,265.50 294.50,265.50 295.50,265.50 296.50,265.50 297.50,265.50 298.50,265.50 299.50,265.50 300.50,265.50 301.50,265.50 302.50,265.50 303.50,265.50 304.50,265.50 305.50,265.50 306.50,265.50 307.50,265.50 308.50,265.50 309.50,265.50 310.50,265.50 311.50,265.50 312.50,265.50 313.50,265.50 314.50,265.50 315.50,265.50 316.50,265.50 317.50,265.50 318.50,265.50 319.50,265.50 320.50,265.50 321.50,265.50 322.50,265.50 323.50,265.50 324.50,265.50 325.50,265.50 326.50,265.50 327.50,265.50 328.50,265.50 329.50,265.50 330.50,265.50 331.50,265.50 332.50,265.50 333.50,265.50 334.50,265.50 335.50,265.50 336.50,265.50 337.50,265.50 338.50,265.50 339.50,265.50 340.50,265.50 341.50,265.50 342.50,265.50 343.50,265.50 344.50,265.50 345.50,265.50 346.50,265.50 347.50,265.50 348.50,265.50 349.50,265.50 350.50,265.50 351.50,265.50 352.50,265.50 353.50,265.50" fill="none" stroke="#000" stroke-width="1.2"/>
<path d="M50.5,316.50h-5.5 M50.5,300.93h-2.8 M50.5,285.36h-5.5 M50.5,269.79h-2.8 M50.5,254.21h-5.5 M50.5,238.64h-2.8 M50.5,223.07h-5.5 M50.5,207.50h-2.8 M50.5,191.93h-5.5 M50.5,176.36h-2.8 M50.5,160.79h-5.5 M50.5,145.21h-2.8 M50.5,129.64h-5.5 M50.5,114.07h-2.8 M50.5,98.50h-5.5 M50.50,316.5v4.1 M80.75,316.5v2.1 M111.00,316.5v4.1 M141.25,316.5v2.1 M171.50,316.5v4.1 M201.75,316.5v2.1 M232.00,316.5v4.1 M262.25,316.5v2.1 M292.50,316.5v4.1 M322.75,316.5v2.1 M353.00,316.5v4.1" stroke="#444" stroke-width="1" fill="none"/>
<text x="44.2" y="322.10" font-size="16.6" text-anchor="end">0.0</text>
<text x="44.2" y="290.96" font-size="16.6" text-anchor="end">1.5</text>
<text x="44.2" y="259.81" font-size="16.6" text-anchor="end">3.0</text>
<text x="44.2" y="228.67" font-size="16.6" text-anchor="end">4.5</text>
<text x="44.2" y="197.53" font-size="16.6" text-anchor="end">6.0</text>
<text x="44.2" y="166.39" font-size="16.6" text-anchor="end">7.5</text>
<text x="44.2" y="135.24" font-size="16.6" text-anchor="end">9.0</text>
<text x="44.2" y="104.10" font-size="16.6" text-anchor="end">10.5</text>
<text x="50.80" y="335.6" font-size="17" text-anchor="middle">0.0</text>
<text x="111.30" y="335.6" font-size="17" text-anchor="middle">1.5</text>
<text x="171.80" y="335.6" font-size="17" text-anchor="middle">3.0</text>
<text x="232.30" y="335.6" font-size="17" text-anchor="middle">4.5</text>
<text x="292.80" y="335.6" font-size="17" text-anchor="middle">6.0</text>
<text x="353.30" y="335.6" font-size="17" text-anchor="middle">7.5</text>
<text x="146.9" y="85.7" font-size="16.75"><tspan font-family="Liberation Serif" font-size="17.8">η</tspan>, t = 0.00E+00s</text>
<text x="164.6" y="352.7" font-size="15.8">x<tspan dx="0.6"> 10</tspan><tspan font-size="11" dx="1" dy="-8.3">5</tspan><tspan dy="8.3" dx="-1.4"> cm</tspan></text>
<text transform="translate(15.9,237.7) rotate(-90)" font-size="15.8">x<tspan dx="0.6"> 10</tspan><tspan font-size="11" dx="1" dy="-8.3">2</tspan><tspan dy="8.3" dx="-1.4"> cm</tspan></text>
</svg></body></html>
